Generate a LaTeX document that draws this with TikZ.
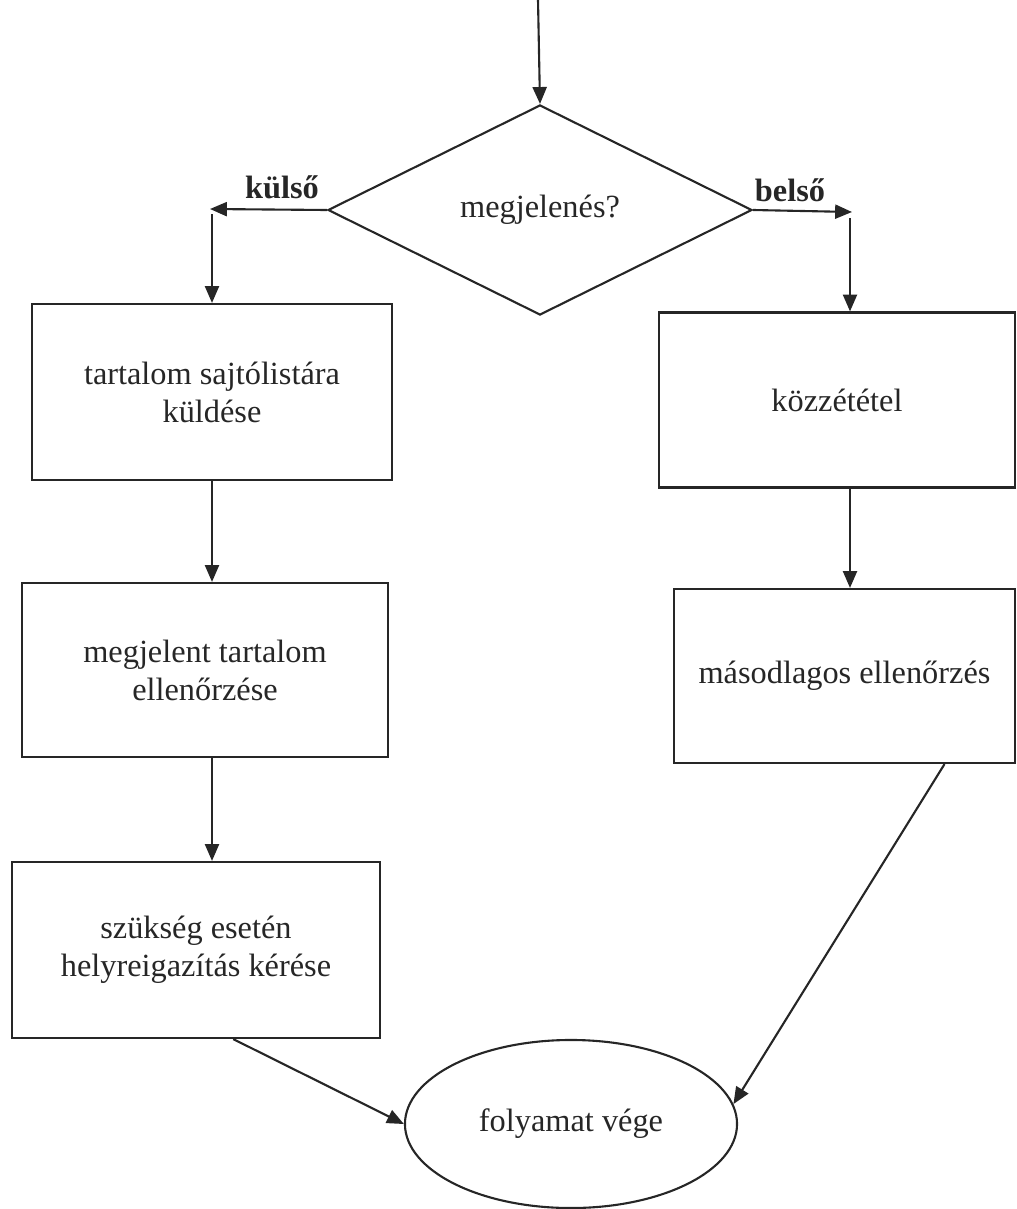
\documentclass[tikz,border=0pt]{standalone}
\usepackage{fontspec}
\setmainfont{Liberation Serif}
\usepackage{tikz}
\usetikzlibrary{arrows.meta,positioning,shapes.geometric}

\begin{document}
\begin{tikzpicture}[x=0.025cm,y=-0.025cm,
  line width=1.5pt,draw=black!85,
  txt/.style={font=\fontsize{23}{27}\selectfont,align=center,text=black!85},
  box/.style={draw,rectangle,txt,inner sep=0pt},
  arr/.style={-{Triangle[length=12pt,width=10pt]}}]
\useasboundingbox (0,0) rectangle (1017,1209);
\node[draw,diamond,txt,minimum width=10.6cm,minimum height=5.25cm,inner sep=0pt] (dec) at (540,210) {megjelenés?};
\node[box,minimum width=9cm,minimum height=4.4cm] (send) at (212,392) {tartalom sajtólistára\\küldése};
\node[box,minimum width=9.15cm,minimum height=4.35cm] (check) at (205,670) {megjelent tartalom\\ellenőrzése};
\node[box,minimum width=9.2cm,minimum height=4.4cm] (fix) at (196,950) {szükség esetén\\helyreigazítás kérése};
\node[box,minimum width=8.9cm,minimum height=4.375cm] (pub) at (837,400) {közzététel};
\node[box,minimum width=8.525cm,minimum height=4.35cm] (second) at (844.5,676) {másodlagos ellenőrzés};
\node[draw,ellipse,txt,minimum width=8.3cm,minimum height=4.2cm,inner sep=0pt] (end) at (571,1124) {folyamat vége};
\node[txt,font=\fontsize{23}{27}\selectfont\bfseries] (kulso) at (282,187) {külső};
\node[txt,font=\fontsize{23}{27}\selectfont\bfseries] (belso) at (790,190) {belső};
% branches
\coordinate (start) at (538,0);
\coordinate (lturn) at (210,209);
\coordinate (ldown) at (212,214);
\coordinate (rturn) at (852,212);
\coordinate (rdown) at (850,218);
\draw[arr] (start) -- (dec.north);
\draw[arr] (dec.west) -- (lturn);
\draw[arr] (ldown) -- (send.north);
\draw[arr] (dec.east) -- (rturn);
\draw[arr] (rdown) -- (rdown |- pub.north);
% left column
\draw[arr] (send.south) -- (send.south |- check.north);
\draw[arr] (send.south |- check.south) -- (send.south |- fix.north);
% right column
\draw[arr] (rdown |- pub.south) -- (rdown |- second.north);
% to the end
\draw[arr] ([xshift=0.93cm]fix.south) -- (end.west);
\draw[arr] ([xshift=2.5cm]second.south) -- (end.7);
\end{tikzpicture}
\end{document}
